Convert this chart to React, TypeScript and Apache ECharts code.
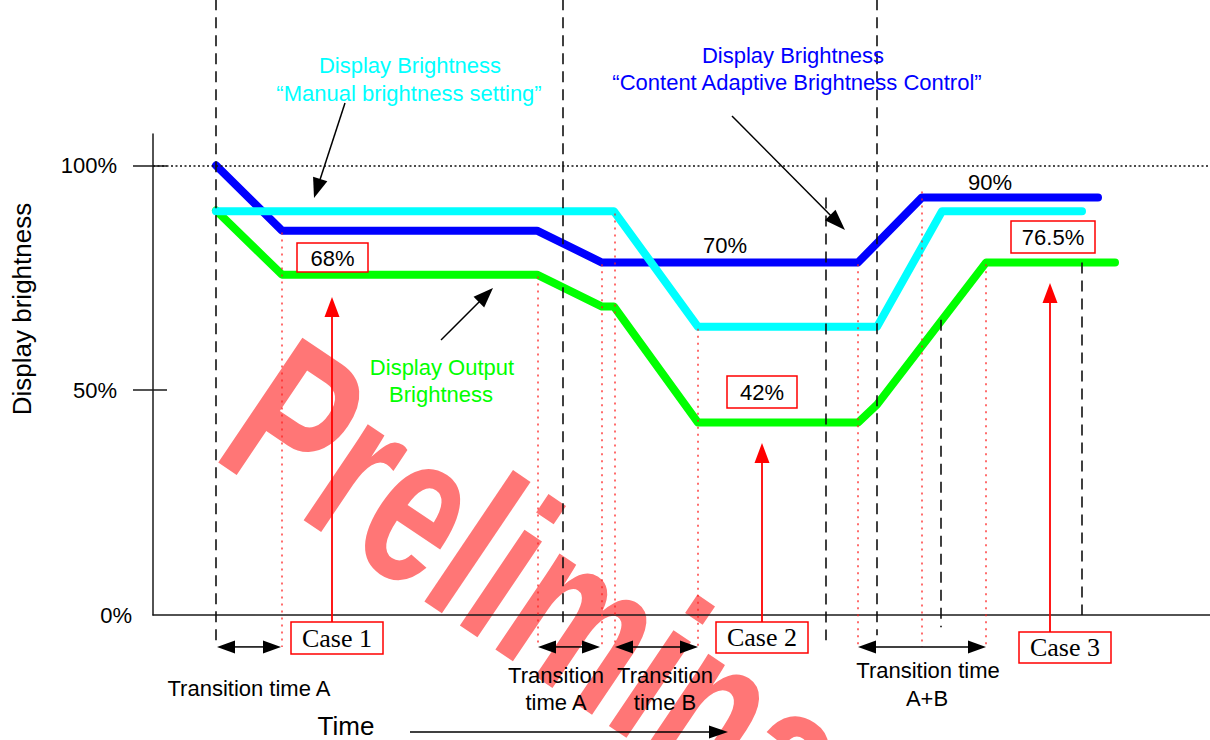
import React, { useEffect, useRef } from 'react';
import * as echarts from 'echarts';

const FONT = '"Liberation Sans", Arial, Helvetica, sans-serif';
const SERIF = '"Liberation Serif", "Times New Roman", Times, serif';

// ---- axes ----
const TIME_MAX = 1057;
const LEVEL_MAX = 107;
const yTickValues = [0, 50, 100];
const yTickLabels = ['0%', '50%', '100%'];

// ---- brightness curves (time, %) ----
const cabcTime = [63, 129, 384, 449, 705, 769, 945];
const cabcLevel = [100, 85.5, 85.5, 78.4, 78.4, 92.9, 92.9];
const manualTime = [63, 461, 545, 724, 789, 929];
const manualLevel = [89.8, 89.8, 64.1, 64.1, 89.8, 89.8];
const outputTime = [63, 129, 384, 449, 461, 545, 705, 724, 833, 962];
const outputLevel = [90, 75.7, 75.7, 68.6, 68.6, 42.8, 42.8, 46.8, 78.4, 78.4];

// ---- event markers (dashed black) ----
const eventTime = [63, 410, 724, 673, 788, 929];
const eventTop = [137, 137, 137, 92.9, 65.7, 78.4];
const eventBottom = [-6.2, -1.8, -4.5, -5.6, -2.7, 0];

// ---- transition corners (dotted red) ----
const cornerTime = [129, 385, 449, 462, 545, 705, 769, 833];
const cornerTop = [85.1, 75.3, 78, 89.3, 63.7, 78, 94.2, 78];
const cornerBottom = -7.1;

// ---- transition time spans ----
const transitionStart = [64, 385, 462, 705];
const transitionEnd = [128, 447, 545, 833];
const transitionLevel = -7.1;

function arrowEls(x1: number, y1: number, x2: number, y2: number, color: string, len: number, half: number, lw: number, both = false) {
  const dx = x2 - x1, dy = y2 - y1;
  const L = Math.hypot(dx, dy);
  const ux = dx / L, uy = dy / L, px = -uy, py = ux;
  const head = (tx: number, ty: number, sx: number, sy: number) => ({
    type: 'polygon', z: 100,
    shape: { points: [[tx, ty], [tx - sx * len + px * half, ty - sy * len + py * half], [tx - sx * len - px * half, ty - sy * len - py * half]] },
    style: { fill: color },
  });
  const els: any[] = [
    {
      type: 'line', z: 100,
      shape: { x1: both ? x1 + ux * (len - 1) : x1, y1: both ? y1 + uy * (len - 1) : y1, x2: x2 - ux * (len - 1), y2: y2 - uy * (len - 1) },
      style: { stroke: color, lineWidth: lw },
    },
    head(x2, y2, ux, uy),
  ];
  if (both) els.push(head(x1, y1, -ux, -uy));
  return els;
}

function txt(x: number, y: number, text: string, size: number, color: string, family = FONT) {
  return {
    type: 'text', x, y, z: 101,
    style: { text, fill: color, fontSize: size, fontFamily: family, align: 'center', verticalAlign: 'middle', textAlign: 'center', textVerticalAlign: 'middle' },
  };
}

function box(x: number, y: number, w: number, h: number) {
  return { type: 'rect', z: 100, shape: { x, y, width: w, height: h }, style: { fill: '#fff', stroke: '#ff0000', lineWidth: 1.5 } };
}

function buildOption(): any {
  const axisColor = '#1a1a1a';
  const rot = (-34 * Math.PI) / 180;
  const graphic: any[] = [
    {
      type: 'text', x: 252, y: 394, rotation: rot, scaleY: 1.42, z: -1,
      style: { text: 'Preliminary', fill: '#ff7676', fontSize: 154, fontWeight: 'bold', fontFamily: FONT, align: 'left', verticalAlign: 'middle', textAlign: 'left', textVerticalAlign: 'middle' },
    },
    // curve annotations
    txt(410, 65, 'Display Brightness', 22, '#00ffff'),
    txt(409, 93, '\u201CManual brightness setting\u201D', 22, '#00ffff'),
    txt(793, 55, 'Display Brightness', 22, '#0000ff'),
    txt(797, 82, '\u201CContent Adaptive Brightness Control\u201D', 22, '#0000ff'),
    txt(442, 367, 'Display Output', 22, '#00ff00'),
    txt(441, 394, 'Brightness', 22, '#00ff00'),
    ...arrowEls(345, 103, 314, 198, '#000', 20, 7.5, 1.5),
    ...arrowEls(441, 340, 493, 288, '#000', 20, 7.5, 1.5),
    ...arrowEls(732, 116, 845, 230, '#000', 21, 7.5, 1.5),
    // value labels
    box(297, 243, 71, 29), txt(332.5, 258, '68%', 22, '#000'),
    box(727, 376, 70, 32), txt(762, 392, '42%', 22, '#000'),
    box(1011, 221, 84, 32), txt(1053, 237, '76.5%', 22, '#000'),
    txt(725, 245, '70%', 22, '#000'),
    txt(990, 182, '90%', 22, '#000'),
    // cases
    ...arrowEls(332, 622, 332, 297, '#ff0000', 20, 7.5, 1.8),
    ...arrowEls(762, 622, 762, 443, '#ff0000', 20, 7.5, 1.8),
    ...arrowEls(1050, 632, 1050, 283, '#ff0000', 20, 7.5, 1.8),
    box(291, 622, 92, 32), txt(337, 638, 'Case 1', 26, '#000', SERIF),
    box(716, 622, 92, 31), txt(762, 637.5, 'Case 2', 26, '#000', SERIF),
    box(1019, 632, 92, 31), txt(1065, 647.5, 'Case 3', 26, '#000', SERIF),
    // transition labels
    txt(249, 688, 'Transition time A', 22, '#000'),
    txt(556, 675, 'Transition', 22, '#000'),
    txt(556, 702, 'time A', 22, '#000'),
    txt(665, 675, 'Transition', 22, '#000'),
    txt(665, 702, 'time B', 22, '#000'),
    txt(928, 670, 'Transition time', 22, '#000'),
    txt(927, 698, 'A+B', 22, '#000'),
    // time axis label
    txt(346, 726, 'Time', 26, '#000'),
    ...arrowEls(410, 732, 728, 732, '#000', 19, 6.5, 1.5),
  ];

  const vline = (color: string, width: number, dash: number[]) => (params: any, api: any) => {
    const t = api.value(0);
    const a = api.coord([t, api.value(1)]);
    const b = api.coord([t, api.value(2)]);
    return { type: 'line', shape: { x1: a[0], y1: a[1], x2: b[0], y2: b[1] }, style: { stroke: color, lineWidth: width, lineDash: dash } };
  };

  const labelFmt = (v: number) => {
    const i = yTickValues.indexOf(v);
    return i >= 0 ? yTickLabels[i] : '';
  };

  return {
    animation: false,
    backgroundColor: '#ffffff',
    grid: { left: 153, right: 0, top: 134, bottom: 125, containLabel: false, outerBoundsMode: 'none' },
    xAxis: {
      type: 'value', min: 0, max: TIME_MAX,
      axisLine: { show: true, onZero: false, lineStyle: { color: axisColor, width: 1.5 } },
      axisTick: { show: false }, axisLabel: { show: false }, splitLine: { show: false },
    },
    yAxis: [
      {
        type: 'value', min: 0, max: LEVEL_MAX, interval: 50, position: 'left',
        name: 'Display brightness', nameLocation: 'middle', nameGap: 118, nameRotate: 90,
        nameTextStyle: { fontSize: 26, fontFamily: FONT, color: '#000', padding: [0, 0, 0, 131] },
        axisLine: { show: true, lineStyle: { color: axisColor, width: 1.5 } },
        axisTick: { show: true, inside: false, length: 20, customValues: [50, 100], lineStyle: { color: axisColor, width: 1.5 } },
        axisLabel: { show: true, margin: 36, fontSize: 22, fontFamily: FONT, color: '#000', customValues: [50, 100], formatter: (v: number) => (v === 0 ? '' : labelFmt(v)) },
        splitLine: { show: false },
      },
      {
        type: 'value', min: 0, max: LEVEL_MAX, interval: 50, position: 'left',
        axisLine: { show: false },
        axisTick: { show: true, inside: true, length: 14, customValues: [50, 100], lineStyle: { color: axisColor, width: 1.5 } },
        axisLabel: { show: true, margin: 21, fontSize: 22, fontFamily: FONT, color: '#000', customValues: [0], formatter: (v: number) => (v === 0 ? labelFmt(v) : '') },
        splitLine: { show: false },
      },
    ],
    graphic,
    series: [
      {
        name: 'Display Output Brightness', type: 'line', z: 3, symbol: 'none',
        data: outputTime.map((t, i) => [t, outputLevel[i]]),
        lineStyle: { color: '#00ff00', width: 8, cap: 'round', join: 'round' },
        markLine: {
          silent: true, symbol: 'none', label: { show: false },
          lineStyle: { color: '#111', width: 1.5, type: [2, 2.5] },
          data: [{ yAxis: 100 }],
        },
      },
      {
        name: 'Content Adaptive Brightness Control', type: 'line', z: 4, symbol: 'none',
        data: cabcTime.map((t, i) => [t, cabcLevel[i]]),
        lineStyle: { color: '#0000ff', width: 8, cap: 'round', join: 'round' },
      },
      {
        name: 'Manual brightness setting', type: 'line', z: 5, symbol: 'none',
        data: manualTime.map((t, i) => [t, manualLevel[i]]),
        lineStyle: { color: '#00ffff', width: 8, cap: 'round', join: 'round' },
      },
      {
        type: 'custom', z: 6, clip: false, silent: true,
        encode: { x: 0, y: [1, 2] },
        data: cornerTime.map((t, i) => [t, cornerTop[i], cornerBottom]),
        renderItem: vline('#ff2020', 1.3, [2, 5]),
      },
      {
        type: 'custom', z: 7, clip: false, silent: true,
        encode: { x: 0, y: [1, 2] },
        data: eventTime.map((t, i) => [t, eventTop[i], eventBottom[i]]),
        renderItem: vline('#111', 1.6, [11, 7]),
      },
      {
        type: 'custom', z: 8, clip: false, silent: true,
        encode: { x: [0, 1], y: 2 },
        data: transitionStart.map((s, i) => [s, transitionEnd[i], transitionLevel]),
        renderItem: (params: any, api: any) => {
          const a = api.coord([api.value(0), api.value(2)]);
          const b = api.coord([api.value(1), api.value(2)]);
          const len = 18, half = 6.5;
          return {
            type: 'group',
            children: [
              { type: 'line', shape: { x1: a[0] + len - 1, y1: a[1], x2: b[0] - len + 1, y2: b[1] }, style: { stroke: '#000', lineWidth: 1.5 } },
              { type: 'polygon', shape: { points: [[a[0], a[1]], [a[0] + len, a[1] - half], [a[0] + len, a[1] + half]] }, style: { fill: '#000' } },
              { type: 'polygon', shape: { points: [[b[0], b[1]], [b[0] - len, b[1] - half], [b[0] - len, b[1] + half]] }, style: { fill: '#000' } },
            ],
          };
        },
      },
    ],
  };
}

export default function App() {
  const ref = useRef<HTMLDivElement>(null);
  useEffect(() => {
    if (!ref.current) return;
    const chart = echarts.init(ref.current, null, { renderer: 'svg', width: 1210, height: 740 });
    chart.setOption(buildOption());
    return () => chart.dispose();
  }, []);
  return <div ref={ref} style={{ position: 'fixed', left: 0, top: 0, width: 1210, height: 740, background: '#fff' }} />;
}
